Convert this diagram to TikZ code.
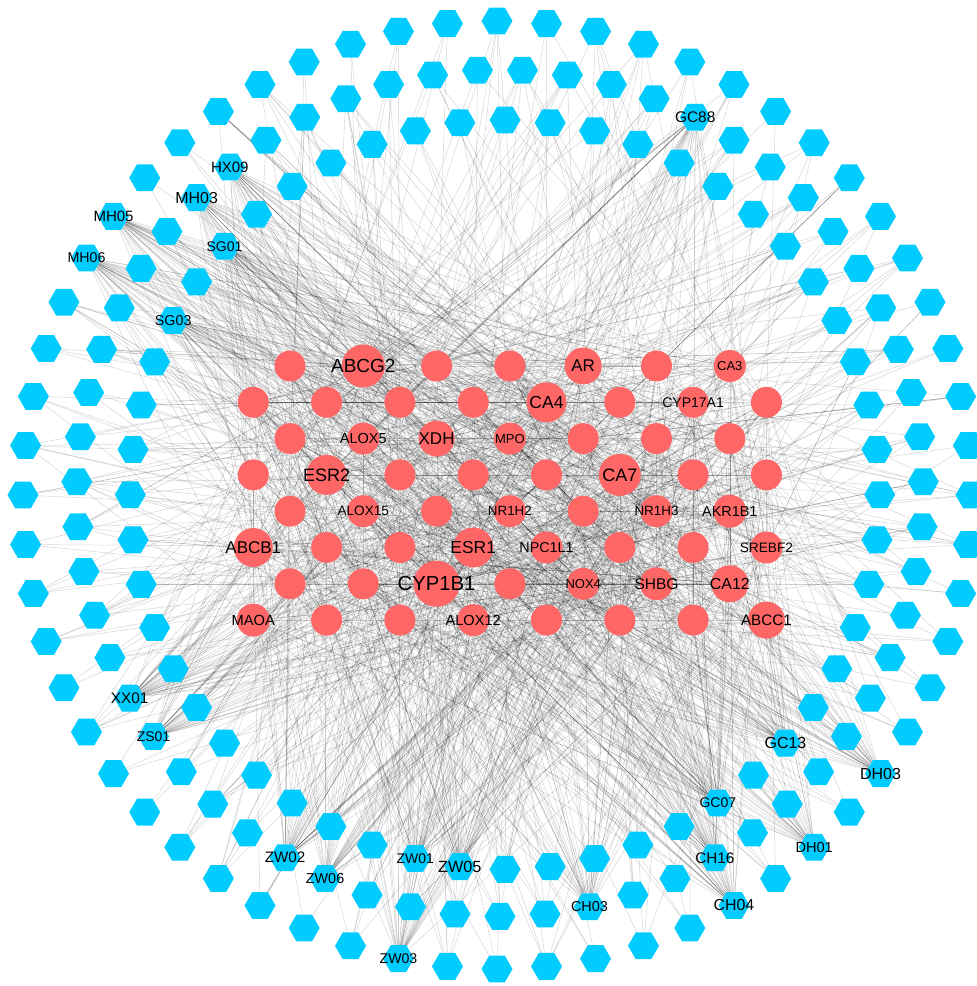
\documentclass[tikz,border=0pt]{standalone}
\usepackage{fontspec}
\setmainfont{Liberation Sans}
\usetikzlibrary{shapes.geometric,backgrounds}
\definecolor{hcyan}{RGB}{0,204,255}
\definecolor{tred}{RGB}{255,102,102}
\pgfmathdeclarerandomlist{tgt}{{c1}{c2}{c3}{c4}{c5}{c6}{c7}{c8}{c9}{c10}{c11}{c12}{c13}{c14}{c15}{c16}{c17}{c18}{c19}{c20}{c21}{c22}{c23}{c24}{c25}{c26}{c27}{c28}{c29}{c30}{c31}{c32}{c33}{c34}{c35}{c36}{c37}{c38}{c39}{c40}{c41}{c42}{c43}{c44}{c45}{c46}{c47}{c48}{c49}{c50}{c51}{c52}{c53}{c54}{c55}{c56}{c57}{c58}{c59}{c60}{c48}{c48}{c2}{c2}{c28}{c24}{c12}{c41}{c38}{c5}{c18}{c52}{c60}}
\begin{document}
\begin{tikzpicture}[x=1pt,y=1pt,
  hexn/.style={regular polygon,regular polygon sides=6,fill=hcyan,draw=none,minimum size=31pt,inner sep=0pt},
  tnode/.style={circle,fill=tred,draw=none,minimum size=#1,inner sep=0pt},
  lbl/.style={inner sep=0pt,text=black},
  edge/.style={line width=0.5pt,draw=black,draw opacity=0.16}]
\useasboundingbox (0,0) rectangle (977,986);
\pgfmathsetseed{11}
% hexagon rings
\foreach \k in {0,...,59}{\pgfmathsetmacro\ang{90+6*\k}\node[hexn] (o\k) at ({497+474*cos(\ang)},{491+474*sin(\ang)}) {};}
\foreach \k in {0,...,58}{\pgfmathsetmacro\ang{93.051+6.1017*\k}\node[hexn] (m\k) at ({500+423.4*cos(\ang)},{493+423.4*sin(\ang)}) {};}
\foreach \k in {0,...,51}{\pgfmathsetmacro\ang{90+6.9231*\k}\node[hexn] (i\k) at ({505+374.7*cos(\ang)},{491.3+374.7*sin(\ang)}) {};}
% target circles
\foreach \nm/\xx/\yy/\dd in {
 c1/290/620/31, c2/363.3/620/43, c3/436.6/620/31, c4/509.9/620/31, c5/583.2/620/37, c6/656.5/620/31, c7/729.8/620/32,
 c8/253.3/583.7/31, c9/326.6/583.7/31, c10/399.9/583.7/31, c11/473.2/583.7/31, c12/546.5/583.7/40, c13/619.8/583.7/31, c14/693.1/583.7/31, c15/766.4/583.7/31,
 c16/290/547.4/31, c17/363.3/547.4/32, c18/436.6/547.4/36, c19/509.9/547.4/32, c20/583.2/547.4/31, c21/656.5/547.4/31, c22/729.8/547.4/31,
 c23/253.3/511.1/31, c24/326.6/511.1/40, c25/399.9/511.1/31, c26/473.2/511.1/31, c27/546.5/511.1/31, c28/619.8/511.1/42, c29/693.1/511.1/31, c30/766.4/511.1/31,
 c31/290/474.8/31, c32/363.3/474.8/32, c33/436.6/474.8/31, c34/509.9/474.8/32, c35/583.2/474.8/31, c36/656.5/474.8/32, c37/729.8/474.8/33,
 c38/253.3/438.5/39, c39/326.6/438.5/31, c40/399.9/438.5/31, c41/473.2/438.5/40, c42/546.5/438.5/32, c43/619.8/438.5/31, c44/693.1/438.5/31, c45/766.4/438.5/32,
 c46/290/402.2/31, c47/363.3/402.2/31, c48/436.6/402.2/46, c49/509.9/402.2/31, c50/583.2/402.2/32, c51/656.5/402.2/33, c52/729.8/402.2/37,
 c53/253.3/365.9/33, c54/326.6/365.9/31, c55/399.9/365.9/31, c56/473.2/365.9/32, c57/546.5/365.9/31, c58/619.8/365.9/31, c59/693.1/365.9/31, c60/766.4/365.9/37}
 {\node[tnode=\dd] (\nm) at (\xx,\yy) {};}
% connectors
\begin{pgfonlayer}{background}
\fill[white] (0,0) rectangle (977,986);
\foreach \pr/\nn in {o/59,m/58,i/51}{
  \foreach \k in {0,...,\nn}{
    \pgfmathrandominteger{\ne}{2}{7}
    \foreach \e in {1,...,\ne}{\pgfmathrandomitem{\tg}{tgt}\draw[edge] (\pr\k) -- (\tg);}
  }}
\foreach \h in {o9,o10,o28,o35,o37,o39,m6,m7,m19,m20,m24,m25,m31,m34,m54,i7,i9,i24,i25,i31,i33}{
  \pgfmathrandominteger{\st}{0}{59}
  \foreach \e in {1,...,32}{\pgfmathtruncatemacro\ix{mod(\st+7*\e,60)+1}\draw[edge] (\h) -- (c\ix);}}
\foreach \e in {1,...,220}{
  \pgfmathrandominteger{\ra}{1}{60}\pgfmathrandominteger{\rb}{1}{59}
  \pgfmathtruncatemacro\rc{ifthenelse(\rb<\ra,\rb,\rb+1)}
  \draw[edge] (c\ra) -- (c\rc);}
\end{pgfonlayer}
% hexagon labels
\foreach \nd/\tx/\fs in {o9/MH05/15, o10/MH06/14.2, o28/ZW03/14.1, o35/CH04/15.9, o37/DH01/14.6, o39/DH03/16,
 m6/HX09/15, m7/MH03/15.9, m19/XX01/15.3, m20/ZS01/14, m24/ZW02/15.2, m25/ZW06/14.4, m31/CH03/14.4, m34/CH16/15.3, m54/GC88/15.4,
 i7/SG01/14, i9/SG03/14.3, i24/ZW01/14, i25/ZW05/16.2, i31/GC07/14, i33/GC13/16}
 {\node[lbl,font=\fontsize{\fs}{\fs}\selectfont] (t\nd) at (\nd) {\tx};}
% circle labels
\foreach \nd/\tx/\fs in {c2/ABCG2/19, c5/AR/17, c7/CA3/13, c12/CA4/17.5, c14/CYP17A1/14, c17/ALOX5/14.5, c18/XDH/17, c19/MPO/13,
 c24/ESR2/18, c28/CA7/18, c32/ALOX15/13.6, c34/NR1H2/13.4, c36/NR1H3/13.4, c37/AKR1B1/14.4,
 c38/ABCB1/17, c41/ESR1/17.4, c42/NPC1L1/14.3, c45/SREBF2/13.7, c48/CYP1B1/20.3, c50/NOX4/13, c51/SHBG/15.5, c52/CA12/16,
 c53/MAOA/14.7, c56/ALOX12/14.6, c60/ABCC1/15.2}
 {\node[lbl,font=\fontsize{\fs}{\fs}\selectfont] (t\nd) at (\nd) {\tx};}
\end{tikzpicture}
\end{document}
